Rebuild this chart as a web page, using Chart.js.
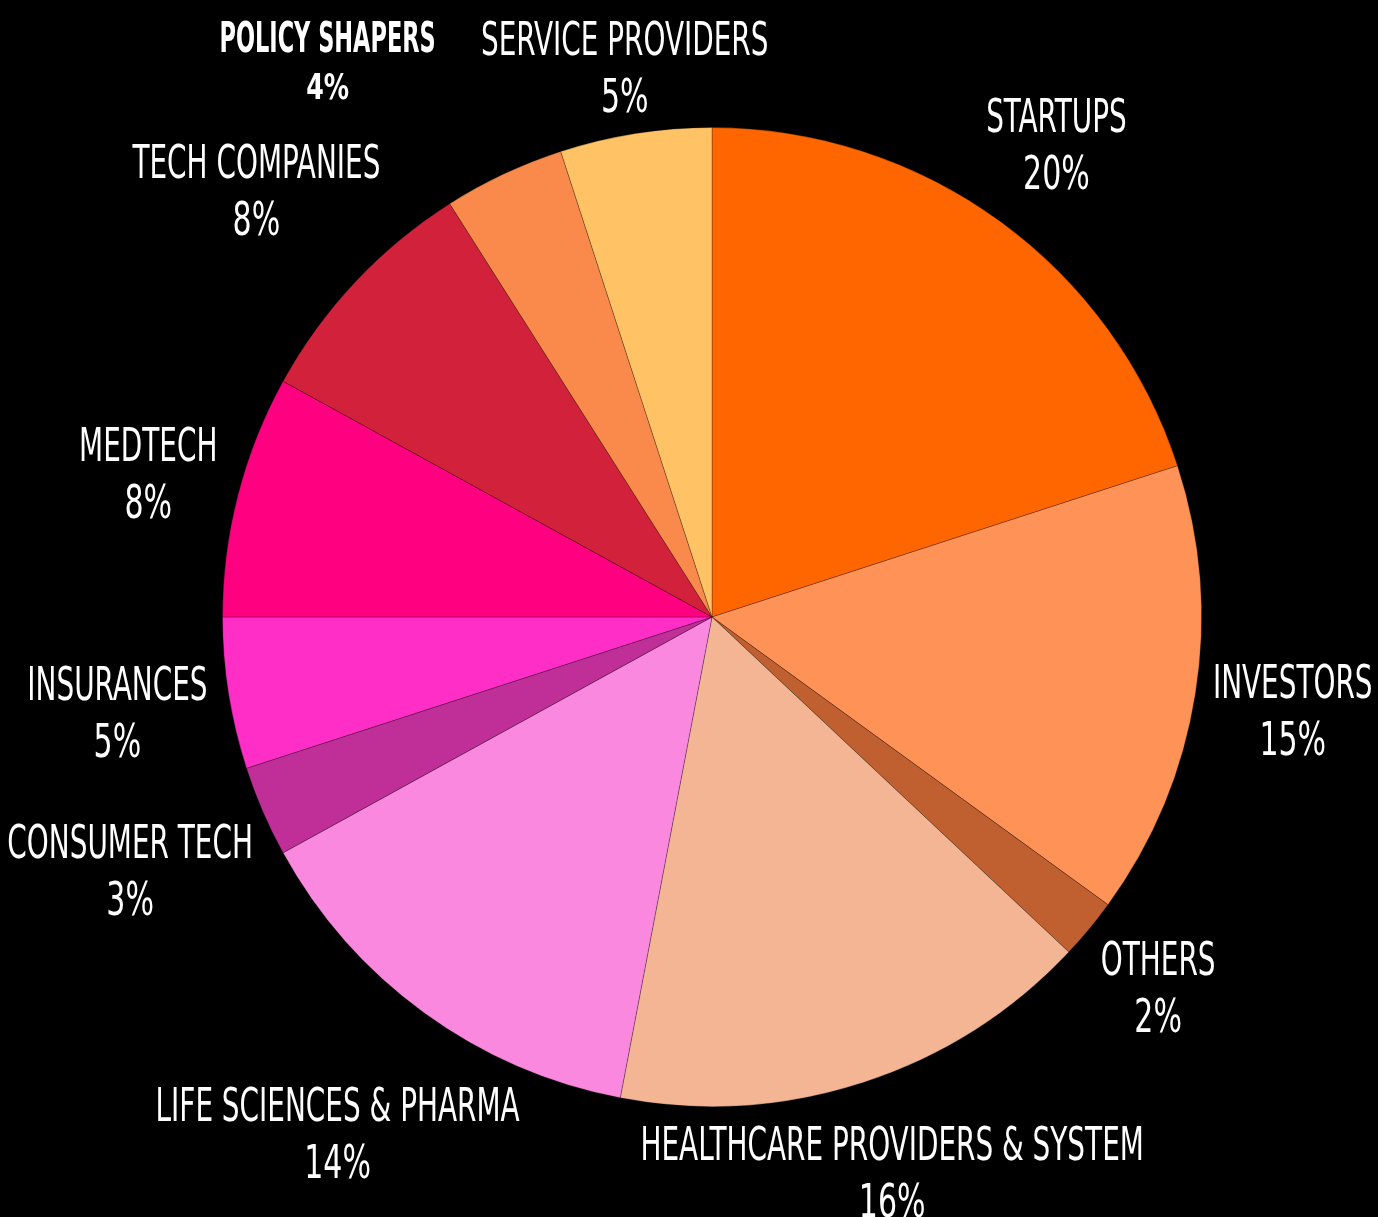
<!DOCTYPE html>
<html>
<head>
<meta charset="utf-8">
<script src="https://cdn.jsdelivr.net/npm/chart.js@4.4.1/dist/chart.umd.min.js"></script>
<style>
  html, body { margin: 0; padding: 0; background: #000; }
  #wrap { width: 1378px; height: 1217px; }
</style>
</head>
<body>
<div id="wrap"><canvas id="pieChart" width="1378" height="1217"></canvas></div>
<script>
// Slices, clockwise from 12 o'clock
const categories = [
    'STARTUPS', 'INVESTORS', 'OTHERS', 'HEALTHCARE PROVIDERS & SYSTEM',
    'LIFE SCIENCES & PHARMA', 'CONSUMER TECH', 'INSURANCES', 'MEDTECH',
    'TECH COMPANIES', 'POLICY SHAPERS', 'SERVICE PROVIDERS'
];
const shares = [20, 15, 2, 16, 14, 3, 5, 8, 8, 4, 5];
const sliceColors = [
    '#FF6600', '#FF9257', '#C06030', '#F3B594',
    '#F988DE', '#C02E98', '#FF2EC6', '#FF0080',
    '#D2213B', '#FA8A4B', '#FFC366'
];

// label placement: distance from centre, angle tweak (deg), bold
const labelDist = [586, 588, 579, 583, 637, 634, 602, 582, 625, 677, 558];
const labelTurn = [0, 0, 0, 0, 0, 0, 0, 0, 0, -9.4, 0];
const labelBold = [false, false, false, false, false, false, false, false, false, true, false];

const FONT = '"Liberation Sans Narrow", "DejaVu Sans Condensed", "Roboto Condensed", sans-serif';

function drawSqueezed(ctx, text, x, y, font, squeeze) {
    ctx.save();
    ctx.font = font;
    ctx.translate(x, y);
    ctx.scale(squeeze, 1);
    ctx.fillText(text, 0, 0);
    ctx.restore();
}

const outsideLabels = {
    id: 'outsideLabels',
    afterDatasetsDraw(chart) {
        const ctx = chart.ctx;
        const meta = chart.getDatasetMeta(0);
        ctx.save();
        ctx.fillStyle = '#FFFFFF';
        ctx.textAlign = 'center';
        ctx.textBaseline = 'alphabetic';
        meta.data.forEach((arc, i) => {
            const mid = (arc.startAngle + arc.endAngle) / 2 + labelTurn[i] * Math.PI / 180;
            const x = arc.x + Math.cos(mid) * labelDist[i];
            const y = arc.y + Math.sin(mid) * labelDist[i];
            const pct = shares[i] + '%';
            if (labelBold[i]) {
                drawSqueezed(ctx, categories[i], x, y - 8, 'bold 43px ' + FONT, 0.58);
                drawSqueezed(ctx, pct, x, y + 39, 'bold 36px ' + FONT, 0.78);
            } else {
                drawSqueezed(ctx, categories[i], x, y - 11, '47px ' + FONT, 0.66);
                drawSqueezed(ctx, pct, x, y + 46, '47px ' + FONT, 0.71);
            }
        });
        ctx.restore();
    }
};

const ctx = document.getElementById('pieChart').getContext('2d');
new Chart(ctx, {
    type: 'pie',
    data: {
        labels: categories,
        datasets: [{
            data: shares,
            backgroundColor: sliceColors,
            borderColor: 'rgba(0,0,0,0.25)',
            borderWidth: 1
        }]
    },
    options: {
        responsive: false,
        animation: false,
        layout: { padding: { left: 222, right: 176, top: 127, bottom: 110 } },
        plugins: {
            legend: { display: false },
            tooltip: { enabled: false }
        }
    },
    plugins: [outsideLabels]
});
</script>
</body>
</html>
